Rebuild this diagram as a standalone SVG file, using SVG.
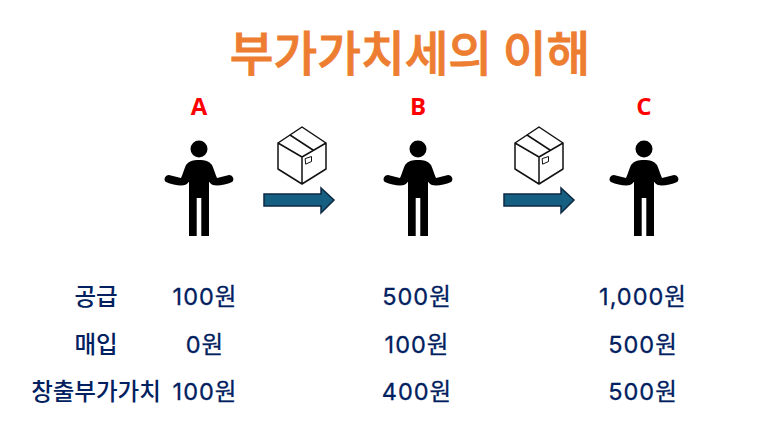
<svg xmlns="http://www.w3.org/2000/svg" xmlns:xlink="http://www.w3.org/1999/xlink" width="773" height="446" viewBox="0 0 773 446">
<style>
text{font-family:"Noto Sans CJK KR","Noto Sans",sans-serif;text-anchor:middle}
.t{font-size:47.500px;font-weight:500;fill:#ed7d31;stroke:#ed7d31;stroke-width:.9}
.n{font-size:24px;font-weight:700;fill:#ff0000;font-family:"Open Sans","Noto Sans",sans-serif}
.l{font-size:23.500px;font-weight:500;fill:#002060;font-family:"Noto Sans CJK KR",sans-serif}
.v{font-size:23.500px;font-weight:400;fill:#002060;stroke:#002060;stroke-width:.3;letter-spacing:1px;font-family:Inter,"Noto Sans CJK KR",sans-serif}
.box{fill:none;stroke:#111;stroke-width:1.500;stroke-linejoin:round;stroke-linecap:round}
.arrow{fill:#156082;stroke:#0e2841;stroke-width:1.500}
</style>
<defs>
<g id="person">
<circle cx="0" cy="-47" r="8.500" fill="#000"/>
<path fill="#000" d="M-13-31C-10-35-6-36 0-36S10-35 13-31C15-27 16-22 18-18L30-21C34-21 36-16 33-14 27-11 18-10 14-11 11-12 11-14 10-14V40H2.300V2H-2.300V40H-10V-14C-11-14-11-12-14-11-18-10-27-11-33-14-36-16-34-21-30-21L-18-18C-16-22-15-27-13-31Z"/>
</g>
<g id="box">
<path class="box" d="M0-24L24-8V18L0 33-24 18V-8Z M-24-8L0 6 24-8 M0 6V33 M-12-16L11-1"/>
<path class="box" style="stroke-width:1" d="M3.500 7.500L9.500 5.500V10.500L4 13Z"/>
</g>
</defs>
<text class="t" x="410" y="71">부가가치세의 이해</text>
<g id="node-a"><text class="n" x="199" y="115">A</text><use xlink:href="#person" x="199" y="196"/></g>
<g id="node-b"><text class="n" x="418" y="115">B</text><use xlink:href="#person" x="418" y="196"/></g>
<g id="node-c"><text class="n" x="644" y="115">C</text><use xlink:href="#person" x="644" y="196"/></g>
<g id="box-1"><use xlink:href="#box" x="302" y="151"/></g>
<g id="box-2"><use xlink:href="#box" x="539" y="151"/></g>
<g id="connectors">
<path class="arrow" d="M264 194H321V188L334 200 321 213V206H264Z"/>
<path class="arrow" d="M504 194H561V188L574 200 561 213V206H504Z"/>
</g>
<g id="table">
<text class="l" x="96" y="305">공급</text>
<text class="l" x="96" y="353">매입</text>
<text class="l" x="96" y="400">창출부가가치</text>
<text class="v" x="205" y="305">100원</text>
<text class="v" x="205" y="353">0원</text>
<text class="v" x="205" y="400">100원</text>
<text class="v" x="417" y="305">500원</text>
<text class="v" x="417" y="353">100원</text>
<text class="v" x="417" y="400">400원</text>
<text class="v" x="643" y="305">1,000원</text>
<text class="v" x="643" y="353">500원</text>
<text class="v" x="643" y="400">500원</text>
</g>
</svg>
